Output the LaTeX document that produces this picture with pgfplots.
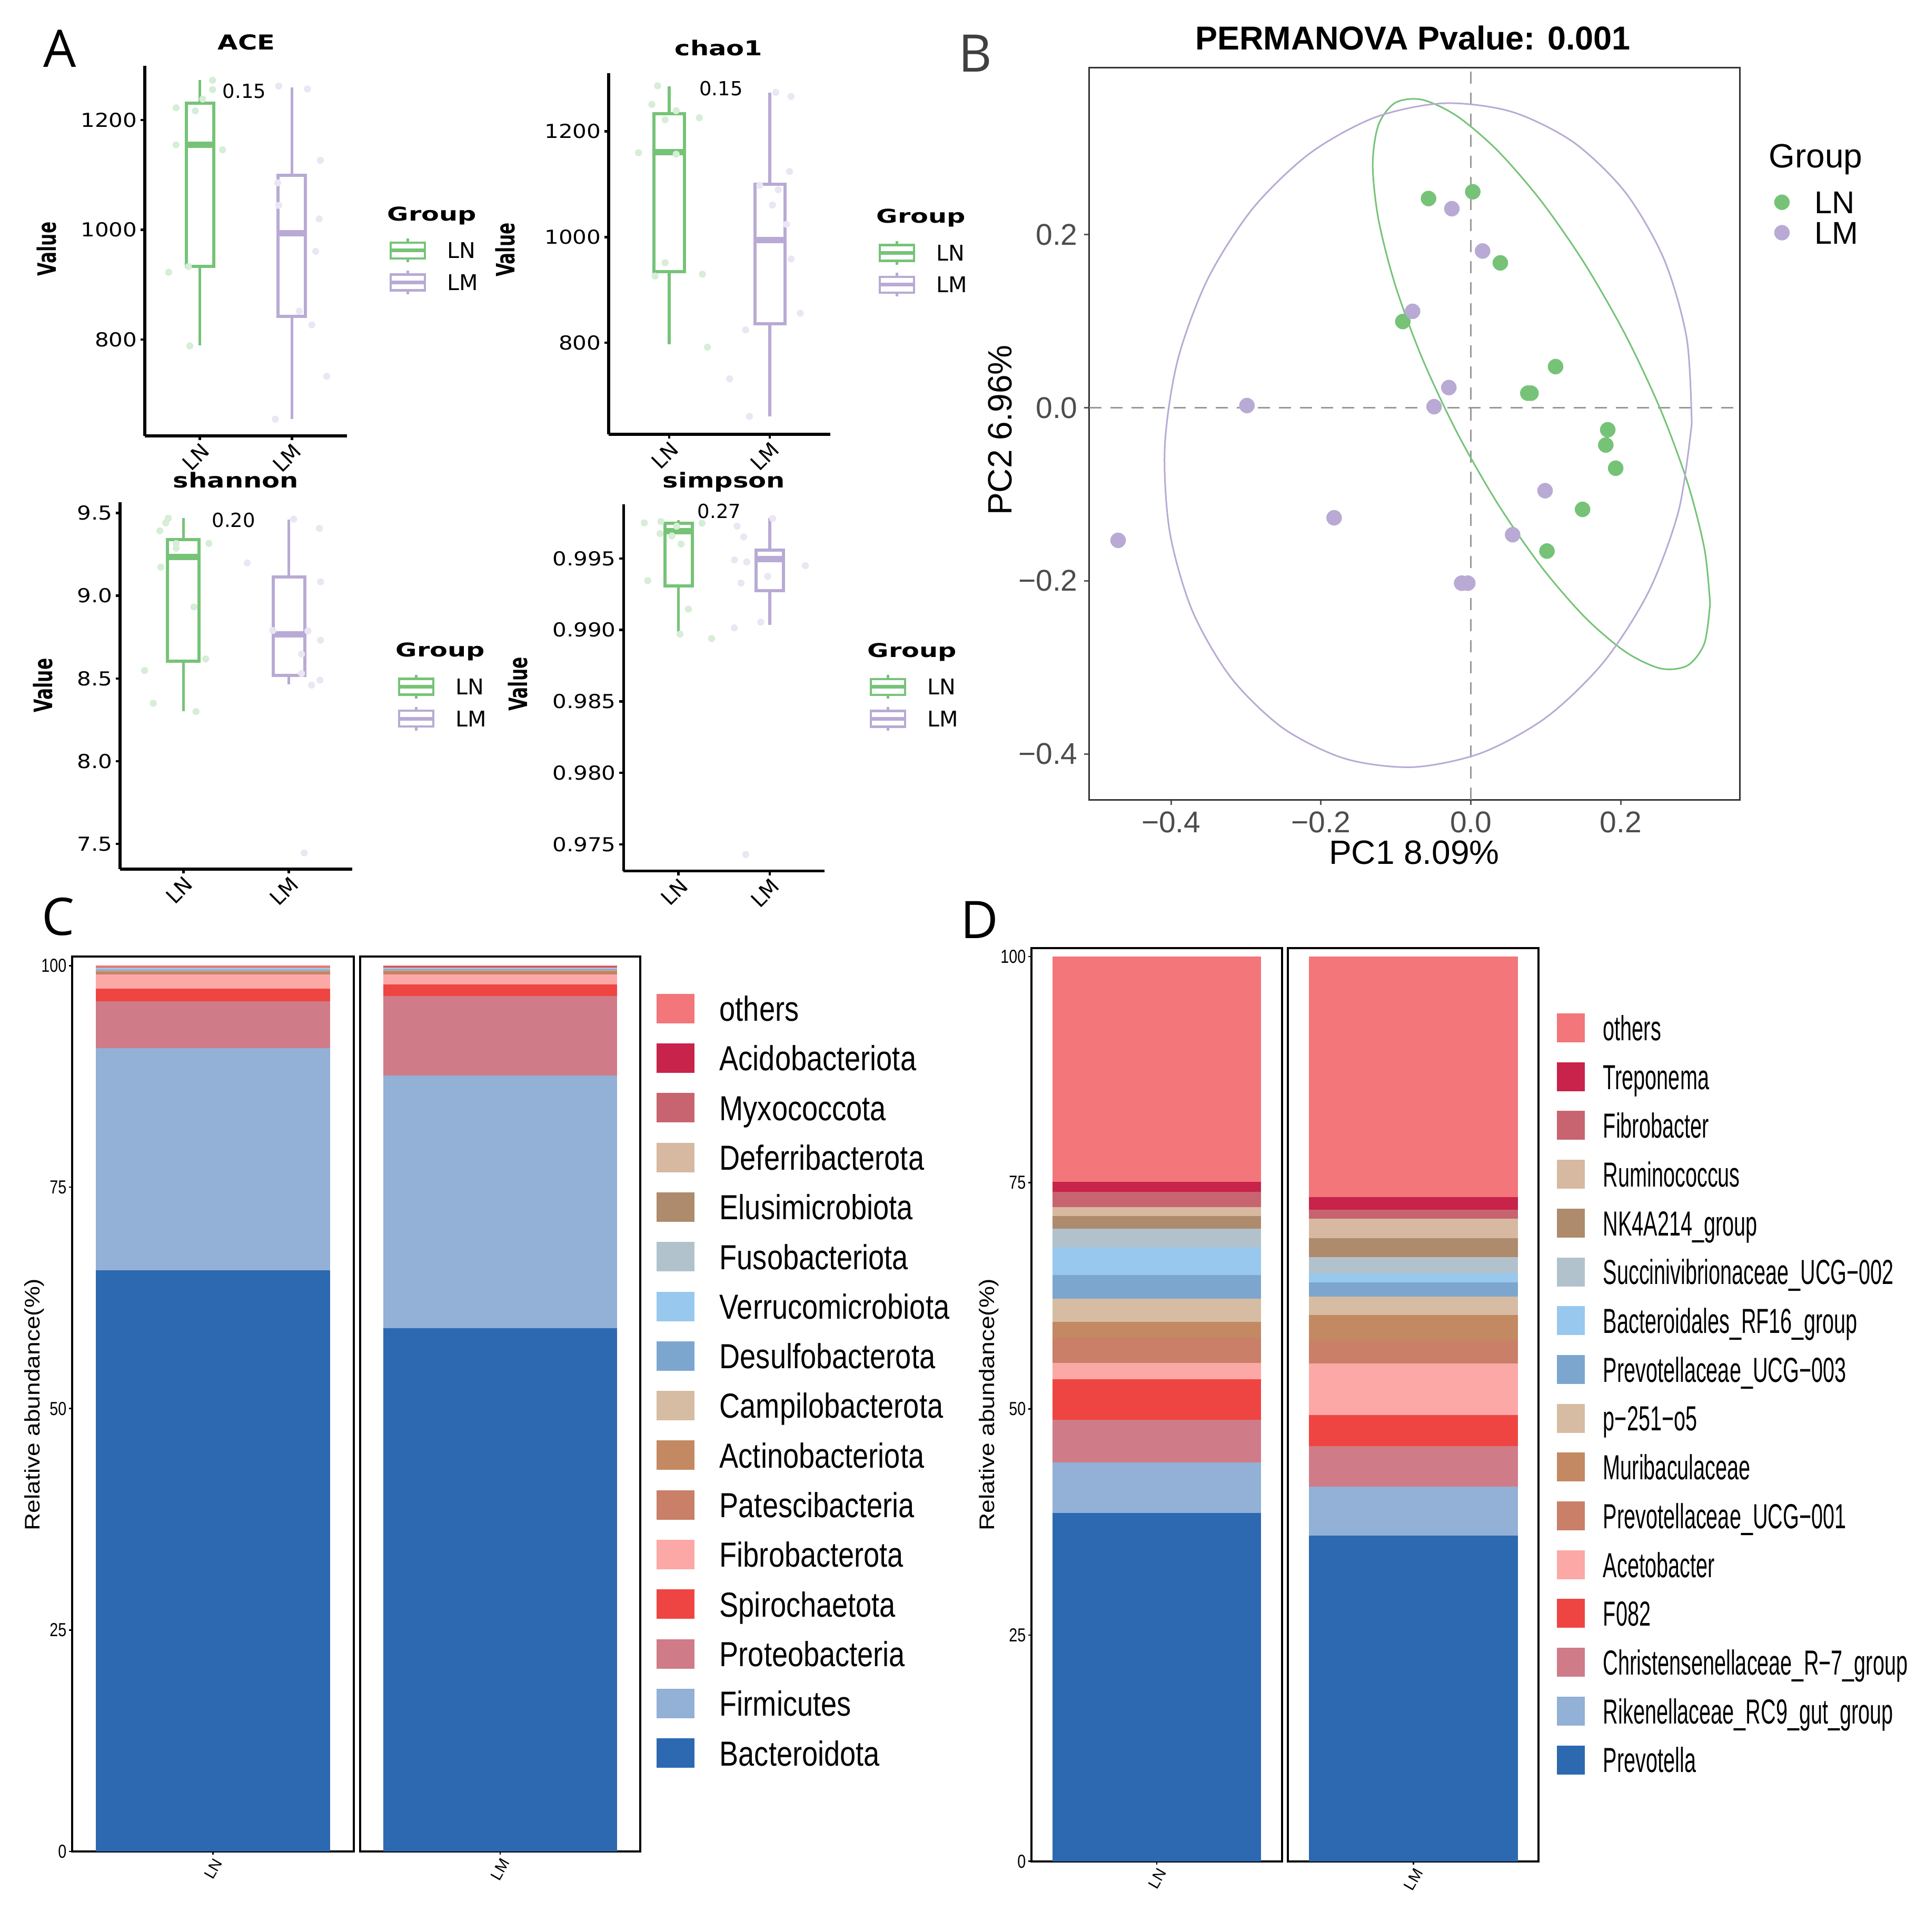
\documentclass[border=0pt]{standalone}
\usepackage{pgfplots}
\pgfplotsset{compat=1.18}
\usepackage{pgfplotstable}
\usepackage{graphicx}
\usepackage{fontspec}
\setmainfont{Liberation Sans}
\newfontfamily\dejavu{DejaVu Sans}
\newfontfamily\opensans{Open Sans}

\newcommand\fpt[1]{\fontsize{#1pt}{#1pt}\selectfont}
\newcommand\sqC[1]{\scalebox{0.82}[1]{#1}}
\newcommand\sqD[1]{\scalebox{0.6}[1]{#1}}
\newcommand\sqT[1]{\scalebox{0.8}[1]{#1}}
\newcommand\sqA[1]{\scalebox{1.15}[1]{#1}}
\newcommand\wide[1]{\scalebox{1.27}[1]{#1}}

\definecolor{lnc}{RGB}{118,195,120}
\definecolor{lmc}{RGB}{184,170,212}
\definecolor{lnl}{RGB}{214,237,214}
\definecolor{lml}{RGB}{234,230,243}
\definecolor{k01}{HTML}{F2767A}
\definecolor{k02}{HTML}{C8234A}
\definecolor{k03}{HTML}{C86470}
\definecolor{k04}{HTML}{D6B9A0}
\definecolor{k05}{HTML}{AE8B6C}
\definecolor{k06}{HTML}{B2C2CD}
\definecolor{k07}{HTML}{98C8EE}
\definecolor{k08}{HTML}{7DA6CF}
\definecolor{k09}{HTML}{D6BCA2}
\definecolor{k10}{HTML}{C38962}
\definecolor{k11}{HTML}{C97F68}
\definecolor{k12}{HTML}{FCA8A6}
\definecolor{k13}{HTML}{EF4542}
\definecolor{k14}{HTML}{D07B88}
\definecolor{k15}{HTML}{93B0D6}
\definecolor{k16}{HTML}{2D69B0}

% relative abundance, bottom to top of each bar
\pgfplotstableread{
x s1 s2 s3 s4 s5 s6 s7 s8 s9 s10 s11 s12 s13 s14 s15 s16
1 65.6 25.1 5.3 1.4 1.6 0.2 0.15 0.05 0.15 0.1 0.05 0.05 0.03 0.05 0.02 0.15
}\phyLN
\pgfplotstableread{
x s1 s2 s3 s4 s5 s6 s7 s8 s9 s10 s11 s12 s13 s14 s15 s16
1 59.1 28.5 9.0 1.3 1.1 0.25 0.15 0.1 0.1 0.05 0.05 0.05 0.05 0.05 0.05 0.1
}\phyLM
\pgfplotstableread{
x s1 s2 s3 s4 s5 s6 s7 s8 s9 s10 s11 s12 s13 s14 s15 s16
1 38.5 5.6 4.7 4.5 1.8 2.8 1.7 2.6 2.6 3.1 2.0 1.4 1.0 1.7 1.1 24.9
}\genLN
\pgfplotstableread{
x s1 s2 s3 s4 s5 s6 s7 s8 s9 s10 s11 s12 s13 s14 s15 s16
1 36.0 5.4 4.5 3.4 5.7 2.5 2.9 2.0 1.6 1.0 1.8 2.1 2.1 1.0 1.4 26.6
}\genLM

\pgfplotscreateplotcyclelist{taxa}{
fill=k16,draw=none\\fill=k15,draw=none\\fill=k14,draw=none\\fill=k13,draw=none\\
fill=k12,draw=none\\fill=k11,draw=none\\fill=k10,draw=none\\fill=k09,draw=none\\
fill=k08,draw=none\\fill=k07,draw=none\\fill=k06,draw=none\\fill=k05,draw=none\\
fill=k04,draw=none\\fill=k03,draw=none\\fill=k02,draw=none\\fill=k01,draw=none\\}

% box: colour, left, centre, right, lower whisker, Q1, median, Q3, upper whisker
\newcommand\bxp[9]{%
  \addplot[#1, line width=0.55mm, forget plot] coordinates {(#3,#5) (#3,#6)};
  \addplot[#1, line width=0.55mm, forget plot] coordinates {(#3,#8) (#3,#9)};
  \addplot[#1, line width=0.6mm, line cap=rect, line join=miter, forget plot] coordinates {(#2,#6) (#4,#6) (#4,#8) (#2,#8) (#2,#6)};
  \addplot[#1, line width=1.2mm, forget plot] coordinates {(#2,#7) (#4,#7)};
}

\pgfplotsset{
  alphaax/.style={
    scale only axis, anchor=north west, axis lines*=left, clip=false,
    xmin=0.4, xmax=2.6, xtick={1,2}, xticklabels={LN,LM},
    axis line style={line width=0.55mm, black},
    tick style={line width=0.45mm, black}, tick align=outside, major tick length=0.8mm,
    xticklabel style={font=\dejavu\fpt{11.2}, rotate=45, anchor=north east, inner sep=0.2mm},
    yticklabel style={font=\dejavu\fpt{10.4}, inner sep=0.6mm},
    legend entries={LN,LM}, legend cell align=left,
    legend style={draw=none, fill=none, inner sep=0pt, anchor=north west,
      row sep=1.1mm, column sep=3.9mm,
      nodes={inner sep=0pt, text height=3mm, text depth=0pt, font=\dejavu\fpt{11.7}}},
    legend image code/.code={
      \draw[line width=0.45mm] (0mm,-1.5mm) rectangle (6.5mm,1.5mm);
      \draw[line width=0.7mm] (0mm,0mm) -- (6.5mm,0mm);
      \draw[line width=0.45mm] (3.25mm,1.5mm) -- (3.25mm,2.25mm) (3.25mm,-1.5mm) -- (3.25mm,-2.25mm);},
  },
  jit/.style={only marks, mark=*, mark size=1.7pt, forget plot},
  barax/.style={
    scale only axis, anchor=north west, ybar stacked, bar width=1,
    xmin=0.4, xmax=1.6, ymin=0, enlargelimits=false, xtick={1},
    axis line style={line width=0.4mm, black},
    tick style={line width=0.25mm, black}, tick align=outside, major tick length=0.6mm, tick pos=left,
    xticklabel style={font=\fpt{8.5}, rotate=60, anchor=north east, inner sep=0.3mm},
    yticklabel style={font=\fpt{10.2}, inner sep=0.4mm},
    cycle list name=taxa, legend cell align=left, reverse legend,
    legend style={draw=none, fill=none, inner sep=0pt, anchor=north west,
      nodes={inner sep=0pt, text height=4.75mm, text depth=0pt, font=\fpt{18.8}}},
  },
}

\begin{document}
\begin{tikzpicture}
\path[use as bounding box] (0mm,0mm) rectangle (365.7mm,-367mm);

% panel letters
\node[anchor=base, inner sep=0, font=\opensans\fpt{28}] at (11.35mm,-12.8mm) {A};
\node[anchor=base, inner sep=0, font=\opensans\fpt{28}, text=black!75] at (185.2mm,-13.7mm) {B};
\node[anchor=base, inner sep=0, font=\opensans\fpt{28}] at (11.1mm,-177.6mm) {C};
\node[anchor=base, inner sep=0, font=\opensans\fpt{28}] at (186.0mm,-178.2mm) {D};

% ---------------- A: alpha diversity ----------------
\begin{axis}[alphaax, at={(27.5mm,-12.5mm)}, width=38.4mm, height=70.3mm,
  ymin=624.5, ymax=1299, ytick={800,1000,1200}, yticklabels={\sqA{800},\sqA{1000},\sqA{1200}},
  legend style={at={(axis description cs:1.2057,0.537)}}]
\addplot[jit, lnl] coordinates {(1.137,1272.5) (1.137,1255.6) (1.03,1238.4) (0.74,1222.5) (0.95,1217) (0.74,1155) (1.246,1146) (0.66,922.8) (0.875,933) (0.89,788.5)};
\addplot[jit, lml] coordinates {(1.857,1262) (2.17,1256.6) (2.31,1126.7) (1.846,1085.8) (1.857,1044.6) (2.297,1020) (2.26,961) (2.08,851.8) (2.217,826.8) (2.38,733) (1.82,655)};
\bxp{lnc}{0.85}{1}{1.15}{790}{933}{1155}{1231}{1273}
\bxp{lmc}{1.85}{2}{2.15}{655}{842}{994}{1099}{1260}
\addlegendimage{lnc}
\addlegendimage{lmc}
\end{axis}

\begin{axis}[alphaax, at={(115.6mm,-13.9mm)}, width=42.1mm, height=68.6mm,
  ymin=627, ymax=1310, ytick={800,1000,1200}, yticklabels={\sqA{800},\sqA{1000},\sqA{1200}},
  legend style={at={(axis description cs:1.2138,0.5394)}}]
\addplot[jit, lnl] coordinates {(0.886,1286) (0.828,1251) (1.07,1239) (0.96,1222) (1.30,1225.6) (0.696,1159.5) (1.07,1156.7) (0.96,951.4) (0.861,926.2) (1.33,929.9) (1.38,791.8)};
\addplot[jit, lml] coordinates {(2.058,1273.7) (2.21,1266) (2.195,1124) (1.899,1097.8) (2.083,1089.6) (2.025,1060.6) (2.165,1024) (2.21,958.5) (2.302,856) (1.759,824.5) (1.60,731.9) (1.797,660.8)};
\bxp{lnc}{0.85}{1}{1.15}{797.6}{935}{1160.6}{1233}{1284.7}
\bxp{lmc}{1.85}{2}{2.15}{660.6}{836.5}{994.6}{1100.4}{1272.7}
\addlegendimage{lnc}
\addlegendimage{lmc}
\end{axis}

\begin{axis}[alphaax, at={(22.8mm,-95.4mm)}, width=44.1mm, height=69.7mm,
  ymin=7.348, ymax=9.565, ytick={7.5,8,8.5,9,9.5}, yticklabels={\sqA{7.5},\sqA{8.0},\sqA{8.5},\sqA{9.0},\sqA{9.5}},
  legend style={at={(axis description cs:1.1927,0.5334)}}]
\addplot[jit, lnl] coordinates {(0.857,9.468) (0.832,9.440) (0.777,9.392) (0.931,9.315) (0.931,9.287) (1.242,9.316) (0.787,9.173) (1.10,8.932) (1.212,8.618) (0.633,8.548) (0.715,8.35) (1.12,8.30)};
\addplot[jit, lml] coordinates {(2.045,9.463) (2.289,9.407) (1.605,9.198) (2.30,9.084) (1.847,8.79) (2.18,8.787) (2.30,8.731) (2.12,8.647) (2.294,8.49) (2.215,8.46) (2.145,7.446) (2.12,8.53)};
\bxp{lnc}{0.85}{1}{1.15}{8.302}{8.604}{9.233}{9.339}{9.469}
\bxp{lmc}{1.85}{2}{2.15}{8.464}{8.52}{8.766}{9.112}{9.46}
\addlegendimage{lnc}
\addlegendimage{lmc}
\end{axis}

\begin{axis}[alphaax, at={(118.44mm,-95.8mm)}, width=38.2mm, height=69.65mm,
  ymin=0.97314, ymax=0.99879, ytick={0.975,0.98,0.985,0.99,0.995},
  yticklabels={\sqA{0.975},\sqA{0.980},\sqA{0.985},\sqA{0.990},\sqA{0.995}},
  legend style={at={(axis description cs:1.2188,0.5384)}}]
\addplot[jit, lnl] coordinates {(0.626,0.99749) (0.807,0.99759) (0.98,0.99726) (1.258,0.99747) (0.798,0.99674) (0.928,0.99658) (1.028,0.99601) (0.664,0.99345) (1.109,0.99146) (1.017,0.98971) (1.362,0.9894)};
\addplot[jit, lml] coordinates {(1.641,0.99726) (1.713,0.99651) (1.612,0.9949) (1.747,0.99476) (2.388,0.9945) (1.977,0.99375) (1.684,0.99328) (1.90,0.99055) (1.612,0.99015) (2.03,0.99779) (1.736,0.97429)};
\bxp{lnc}{0.85}{1}{1.15}{0.9896}{0.99308}{0.99692}{0.99747}{0.99769}
\bxp{lmc}{1.85}{2}{2.15}{0.99035}{0.99274}{0.99495}{0.99557}{0.99784}
\addlegendimage{lnc}
\addlegendimage{lmc}
\end{axis}

% titles, p values, y labels, legend titles of A
\node[anchor=base, inner sep=0, font=\dejavu\bfseries\fpt{11.1}] at (46.8mm,-9.5mm) {\wide{ACE}};
\node[anchor=base, inner sep=0, font=\dejavu\bfseries\fpt{11.1}] at (136.5mm,-10.6mm) {\wide{chao1}};
\node[anchor=base, inner sep=0, font=\dejavu\bfseries\fpt{11.1}] at (44.8mm,-92.66mm) {\wide{shannon}};
\node[anchor=base, inner sep=0, font=\dejavu\bfseries\fpt{11.1}] at (137.5mm,-92.66mm) {\wide{simpson}};
\node[anchor=base, inner sep=0, font=\dejavu\fpt{10.5}] at (46.4mm,-18.7mm) {0.15};
\node[anchor=base, inner sep=0, font=\dejavu\fpt{10.5}] at (136.95mm,-18.15mm) {0.15};
\node[anchor=base, inner sep=0, font=\dejavu\fpt{10.5}] at (44.37mm,-100.18mm) {0.20};
\node[anchor=base, inner sep=0, font=\dejavu\fpt{10.5}] at (136.6mm,-98.42mm) {0.27};
\node[rotate=90, anchor=base, inner sep=0, font=\dejavu\bfseries\fpt{13.7}] at (10.67mm,-47.3mm) {\scalebox{0.68}[1]{Value}};
\node[rotate=90, anchor=base, inner sep=0, font=\dejavu\bfseries\fpt{13.7}] at (97.7mm,-47.46mm) {\scalebox{0.68}[1]{Value}};
\node[rotate=90, anchor=base, inner sep=0, font=\dejavu\bfseries\fpt{13.7}] at (9.95mm,-130.2mm) {\scalebox{0.68}[1]{Value}};
\node[rotate=90, anchor=base, inner sep=0, font=\dejavu\bfseries\fpt{13.7}] at (100.19mm,-129.96mm) {\scalebox{0.68}[1]{Value}};
\node[anchor=base west, inner sep=0, font=\dejavu\bfseries\fpt{10.25}] at (73.5mm,-41.93mm) {\scalebox{1.37}[1]{Group}};
\node[anchor=base west, inner sep=0, font=\dejavu\bfseries\fpt{10.25}] at (166.4mm,-42.35mm) {\scalebox{1.37}[1]{Group}};
\node[anchor=base west, inner sep=0, font=\dejavu\bfseries\fpt{10.25}] at (75.1mm,-124.76mm) {\scalebox{1.37}[1]{Group}};
\node[anchor=base west, inner sep=0, font=\dejavu\bfseries\fpt{10.25}] at (164.7mm,-124.8mm) {\scalebox{1.37}[1]{Group}};

% ---------------- B: PCoA ----------------
\begin{axis}[scale only axis, anchor=north west, at={(206.89mm,-12.86mm)}, width=123.51mm, height=139.04mm,
  xmin=-0.5091, xmax=0.3586, ymin=-0.4529, ymax=0.3931,
  xtick={-0.4,-0.2,0,0.2}, xticklabels={−0.4,−0.2,0.0,0.2},
  ytick={-0.4,-0.2,0,0.2}, yticklabels={−0.4,−0.2,0.0,0.2},
  axis line style={line width=0.3mm, black!80},
  tick style={line width=0.3mm, black!65}, tick align=outside, major tick length=1mm, tick pos=left,
  ticklabel style={font=\fpt{16.2}, text=black!70},
  legend entries={LN,LM}, legend cell align=left,
  legend style={at={(axis description cs:1.0526,0.8321)}, anchor=north west, draw=none, fill=none,
    inner sep=0pt, row sep=1.48mm, column sep=4.7mm,
    nodes={inner sep=0pt, text height=4.3mm, text depth=0pt, font=\fpt{17}}},
  legend image code/.code={\fill (1.4mm,0mm) circle (1.4mm);}]
\addplot[black!40, dash pattern=on 2.3mm off 1.7mm, line width=0.3mm, forget plot] coordinates {(0,-0.4529) (0,0.3931)};
\addplot[black!40, dash pattern=on 2.3mm off 1.7mm, line width=0.3mm, forget plot] coordinates {(-0.5091,0) (0.3586,0)};
\addplot[only marks, mark=*, mark size=4pt, lnc, mark options={draw=none, fill=lnc}] coordinates {
  (-0.0565,0.2419) (0.0025,0.2497) (0.0393,0.1675) (-0.0908,0.0997) (0.113,0.0476) (0.0802,0.0169)
  (0.0760,0.0169) (0.1826,-0.0254) (0.180,-0.043) (0.1932,-0.0698) (0.149,-0.1174) (0.1015,-0.1656)};
\addplot[only marks, mark=*, mark size=4pt, lmc, mark options={draw=none, fill=lmc}] coordinates {
  (-0.0254,0.2301) (0.0156,0.1812) (-0.0778,0.1115) (-0.0294,0.0234) (-0.2988,0.0026) (-0.0491,0.0013)
  (-0.1825,-0.1271) (-0.4707,-0.1532) (0.099,-0.0958) (0.0557,-0.1467) (-0.0123,-0.2027) (-0.0041,-0.2027)};
\addplot[lnc, line width=0.3mm, smooth, forget plot] coordinates {
  (0.3192,-0.2262) (0.3116,-0.1629) (0.2891,-0.0866) (0.2533,-0.0026) (0.2067,0.0835) (0.1524,0.1658)
  (0.0941,0.2386) (0.0359,0.2970) (-0.0184,0.3371) (-0.0650,0.3561) (-0.1008,0.3526) (-0.1233,0.3270)
  (-0.1310,0.2810) (-0.1233,0.2177) (-0.1008,0.1414) (-0.0650,0.0573) (-0.0184,-0.0287) (0.0359,-0.1110)
  (0.0941,-0.1838) (0.1524,-0.2423) (0.2067,-0.2823) (0.2533,-0.3013) (0.2891,-0.2978) (0.3116,-0.2722)
  (0.3192,-0.2262)};
\addplot[lmc, line width=0.3mm, smooth, forget plot] coordinates {
  (0.2947,-0.0186) (0.2880,0.0803) (0.2578,0.1715) (0.2062,0.2489) (0.1366,0.3071) (0.0539,0.3423)
  (-0.0364,0.3520) (-0.1281,0.3356) (-0.2149,0.2941) (-0.2910,0.2304) (-0.3511,0.1489) (-0.3912,0.0551)
  (-0.4084,-0.0447) (-0.4018,-0.1435) (-0.3716,-0.2348) (-0.3199,-0.3121) (-0.2504,-0.3704) (-0.1676,-0.4056)
  (-0.0773,-0.4153) (0.0144,-0.3988) (0.1012,-0.3574) (0.1773,-0.2937) (0.2374,-0.2122) (0.2774,-0.1183)
  (0.2947,-0.0186)};
\end{axis}
\node[anchor=base, inner sep=0, font=\bfseries\fpt{17.9}] at (268.35mm,-9.43mm) {PERMANOVA Pvalue: 0.001};
\node[anchor=base, inner sep=0, font=\fpt{18.2}] at (268.6mm,-164.1mm) {PC1 8.09\%};
\node[rotate=90, anchor=base, inner sep=0, font=\fpt{18.2}] at (192.1mm,-81.7mm) {PC2 6.96\%};
\node[anchor=base west, inner sep=0, font=\fpt{18.2}] at (335.87mm,-31.9mm) {Group};

% ---------------- C: phylum ----------------
\begin{axis}[barax, at={(13.7mm,-181.7mm)}, width=53.5mm, height=170mm, ymax=101.03,
  xticklabels={LN}, ytick={0,25,50,75,100}, yticklabels={\sqT{0},\sqT{25},\sqT{50},\sqT{75},\sqT{100}},
  legend style={at={(axis description cs:2.0729,0.9588)}, row sep=3.83mm, column sep=4.8mm},
  legend image code/.code={\fill (0mm,-2.8mm) rectangle (7.2mm,2.8mm);},
  legend entries={\sqC{Bacteroidota},\sqC{Firmicutes},\sqC{Proteobacteria},\sqC{Spirochaetota},
    \sqC{Fibrobacterota},\sqC{Patescibacteria},\sqC{Actinobacteriota},\sqC{Campilobacterota},
    \sqC{Desulfobacterota},\sqC{Verrucomicrobiota},\sqC{Fusobacteriota},\sqC{Elusimicrobiota},
    \sqC{Deferribacterota},\sqC{Myxococcota},\sqC{Acidobacteriota},\sqC{others}}]
\pgfplotsinvokeforeach{s1,s2,s3,s4,s5,s6,s7,s8,s9,s10,s11,s12,s13,s14,s15,s16}{
  \addplot table[x=x, y=#1] {\phyLN};
}
\end{axis}
\begin{axis}[barax, at={(68.4mm,-181.7mm)}, width=53.2mm, height=170mm, ymax=101.03,
  xticklabels={LM}, ytick=\empty]
\pgfplotsinvokeforeach{s1,s2,s3,s4,s5,s6,s7,s8,s9,s10,s11,s12,s13,s14,s15,s16}{
  \addplot table[x=x, y=#1] {\phyLM};
}
\end{axis}
\node[rotate=90, anchor=base, inner sep=0, font=\fpt{11.4}] at (7.5mm,-266.8mm) {\scalebox{1.15}[1]{Relative abundance(\%)}};

% ---------------- D: genus ----------------
\begin{axis}[barax, at={(195.9mm,-180.08mm)}, width=47.6mm, height=173.49mm, ymax=100.94,
  xticklabels={LN}, ytick={0,25,50,75,100}, yticklabels={\sqT{0},\sqT{25},\sqT{50},\sqT{75},\sqT{100}},
  legend style={at={(axis description cs:2.0956,0.9288)}, row sep=3.77mm, column sep=3.5mm},
  legend image code/.code={\fill (0mm,-2.75mm) rectangle (5.26mm,2.75mm);},
  legend entries={\sqD{Prevotella},\sqD{Rikenellaceae\_RC9\_gut\_group},\sqD{Christensenellaceae\_R−7\_group},
    \sqD{F082},\sqD{Acetobacter},\sqD{Prevotellaceae\_UCG−001},\sqD{Muribaculaceae},\sqD{p−251−o5},
    \sqD{Prevotellaceae\_UCG−003},\sqD{Bacteroidales\_RF16\_group},\sqD{Succinivibrionaceae\_UCG−002},
    \sqD{NK4A214\_group},\sqD{Ruminococcus},\sqD{Fibrobacter},\sqD{Treponema},\sqD{others}}]
\pgfplotsinvokeforeach{s1,s2,s3,s4,s5,s6,s7,s8,s9,s10,s11,s12,s13,s14,s15,s16}{
  \addplot table[x=x, y=#1] {\genLN};
}
\end{axis}
\begin{axis}[barax, at={(244.64mm,-180.08mm)}, width=47.6mm, height=173.49mm, ymax=100.94,
  xticklabels={LM}, ytick=\empty]
\pgfplotsinvokeforeach{s1,s2,s3,s4,s5,s6,s7,s8,s9,s10,s11,s12,s13,s14,s15,s16}{
  \addplot table[x=x, y=#1] {\genLM};
}
\end{axis}
\node[rotate=90, anchor=base, inner sep=0, font=\fpt{11.4}] at (188.8mm,-266.8mm) {\scalebox{1.15}[1]{Relative abundance(\%)}};
\end{tikzpicture}
\end{document}
